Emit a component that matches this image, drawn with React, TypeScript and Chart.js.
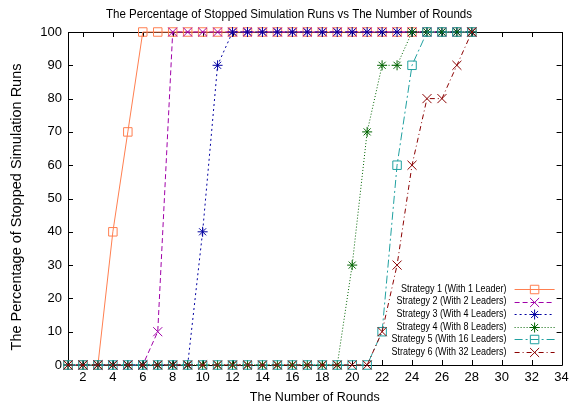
import React, { useEffect, useRef } from 'react';
import { Chart, registerables } from 'chart.js';

Chart.register(...registerables);

const rounds = [1, 2, 3, 4, 5, 6, 7, 8, 9, 10, 11, 12, 13, 14, 15, 16, 17, 18, 19, 20, 21, 22, 23, 24, 25, 26, 27, 28];
const strategy1 = [0, 0, 0, 40, 70, 100, 100, 100, 100, 100, 100, 100, 100, 100, 100, 100, 100, 100, 100, 100, 100, 100, 100, 100, 100, 100, 100, 100];
const strategy2 = [0, 0, 0, 0, 0, 0, 10, 100, 100, 100, 100, 100, 100, 100, 100, 100, 100, 100, 100, 100, 100, 100, 100, 100, 100, 100, 100, 100];
const strategy3 = [0, 0, 0, 0, 0, 0, 0, 0, 0, 40, 90, 100, 100, 100, 100, 100, 100, 100, 100, 100, 100, 100, 100, 100, 100, 100, 100, 100];
const strategy4 = [0, 0, 0, 0, 0, 0, 0, 0, 0, 0, 0, 0, 0, 0, 0, 0, 0, 0, 0, 30, 70, 90, 90, 100, 100, 100, 100, 100];
const strategy5 = [0, 0, 0, 0, 0, 0, 0, 0, 0, 0, 0, 0, 0, 0, 0, 0, 0, 0, 0, 0, 0, 10, 60, 90, 100, 100, 100, 100];
const strategy6 = [0, 0, 0, 0, 0, 0, 0, 0, 0, 0, 0, 0, 0, 0, 0, 0, 0, 0, 0, 0, 0, 10, 30, 60, 80, 80, 90, 100];
const seriesLabels = [
  'Strategy 1 (With 1 Leader)',
  'Strategy 2 (With 2 Leaders)',
  'Strategy 3 (With 4 Leaders)',
  'Strategy 4 (With 8 Leaders)',
  'Strategy 5 (With 16 Leaders)',
  'Strategy 6 (With 32 Leaders)',
];
const xTickValues = [2, 4, 6, 8, 10, 12, 14, 16, 18, 20, 22, 24, 26, 28, 30, 32, 34];
const yTickValues = [0, 10, 20, 30, 40, 50, 60, 70, 80, 90, 100];
const chartTitle = 'The Percentage of Stopped Simulation Runs vs The Number of Rounds';
const xTitle = 'The Number of Rounds';
const yTitle = 'The Percentage of Stopped Simulation Runs';

const FONT = '"Liberation Sans", Arial, Helvetica, sans-serif';

function drawMarker(ctx: CanvasRenderingContext2D, style: string, x: number, y: number, r: number) {
  ctx.beginPath();
  if (style === 'rect') {
    const s = r * Math.SQRT1_2;
    ctx.rect(x - s, y - s, 2 * s, 2 * s);
  } else if (style === 'crossRot' || style === 'star') {
    const d = r * Math.SQRT1_2;
    ctx.moveTo(x - d, y - d); ctx.lineTo(x + d, y + d);
    ctx.moveTo(x - d, y + d); ctx.lineTo(x + d, y - d);
    if (style === 'star') {
      ctx.moveTo(x - r, y); ctx.lineTo(x + r, y);
      ctx.moveTo(x, y - r); ctx.lineTo(x, y + r);
    }
  }
  ctx.stroke();
}

function drawScaledText(ctx: CanvasRenderingContext2D, text: string, x: number, y: number, targetWidth: number, size: number, align: 'center' | 'right') {
  ctx.save();
  ctx.font = `${size}px ${FONT}`;
  const w = ctx.measureText(text).width;
  const k = Math.min(1, targetWidth / w);
  ctx.translate(x, y);
  ctx.scale(k, 1);
  ctx.textAlign = align;
  ctx.textBaseline = 'middle';
  ctx.fillText(text, 0, 0);
  ctx.restore();
}

const framePlugin = {
  id: 'gnuFrame',
  beforeDatasetsDraw(chart: any) {
    const { ctx, chartArea } = chart;
    const { left, right, top, bottom } = chartArea;
    const xs = chart.scales.x;
    const ys = chart.scales.y;
    ctx.save();
    ctx.fillStyle = '#000';
    drawScaledText(ctx, chartTitle, 289, 14, 366, 13, 'center');
    ctx.save();
    ctx.translate(17, 207);
    ctx.rotate(-Math.PI / 2);
    ctx.font = `14.5px ${FONT}`;
    ctx.textAlign = 'center';
    ctx.textBaseline = 'middle';
    ctx.fillText(yTitle, 0, 0);
    ctx.restore();
    ctx.strokeStyle = '#000';
    ctx.lineWidth = 1;
    ctx.setLineDash([]);
    ctx.beginPath();
    ctx.rect(Math.round(left) + 0.5, Math.round(top) + 0.5, Math.round(right - left), Math.round(bottom - top));
    const tl = 5;
    for (const t of xs.ticks) {
      const px = Math.round(xs.getPixelForValue(t.value)) + 0.5;
      ctx.moveTo(px, bottom); ctx.lineTo(px, bottom - tl);
      ctx.moveTo(px, top); ctx.lineTo(px, top + tl);
    }
    for (const t of ys.ticks) {
      const py = Math.round(ys.getPixelForValue(t.value)) + 0.5;
      ctx.moveTo(left, py); ctx.lineTo(left + tl, py);
      ctx.moveTo(right, py); ctx.lineTo(right - tl, py);
    }
    ctx.stroke();
    ctx.restore();
  },
  afterDatasetsDraw(chart: any) {
    const { ctx, chartArea } = chart;
    const ds = chart.data.datasets;
    ctx.save();
    const textRight = chartArea.right - 55;
    const lineStart = chartArea.right - 47;
    const lineEnd = chartArea.right - 7;
    const startY = chartArea.bottom - 76;
    const step = 12.6;
    ctx.font = `10px ${FONT}`;
    const refW = ctx.measureText(seriesLabels[5]).width;
    const k = 115 / refW;
    ds.forEach((d: any, i: number) => {
      const y = startY + i * step;
      ctx.fillStyle = '#000';
      ctx.save();
      ctx.font = `10px ${FONT}`;
      ctx.translate(textRight, y);
      ctx.scale(k, 1);
      ctx.textAlign = 'right';
      ctx.textBaseline = 'middle';
      ctx.fillText(d.label, 0, 0);
      ctx.restore();
      ctx.strokeStyle = d.borderColor;
      ctx.lineWidth = 1;
      ctx.setLineDash(d.borderDash || []);
      ctx.beginPath();
      ctx.moveTo(lineStart, Math.round(y) + 0.5);
      ctx.lineTo(lineEnd, Math.round(y) + 0.5);
      ctx.stroke();
      ctx.setLineDash([]);
      drawMarker(ctx, d.pointStyle, (lineStart + lineEnd) / 2, Math.round(y) + 0.5, d.pointRadius);
    });
    ctx.restore();
  },
};

function makeSeries(label: string, values: number[], color: string, dash: number[], pointStyle: string, radius: number, order: number) {
  return {
    label,
    data: rounds.map((x, i) => ({ x, y: values[i] })),
    borderColor: color,
    backgroundColor: 'rgba(0,0,0,0)',
    borderWidth: 1,
    borderDash: dash,
    pointStyle,
    pointRadius: radius,
    pointHoverRadius: radius,
    pointBorderColor: color,
    pointBackgroundColor: 'rgba(0,0,0,0)',
    pointBorderWidth: 1,
    tension: 0,
    fill: false,
    clip: false as any,
    order,
  };
}

export default function App() {
  const ref = useRef<HTMLCanvasElement>(null);
  useEffect(() => {
    document.body.style.margin = '0';
    const datasets = [
      makeSeries(seriesLabels[0], strategy1, '#ff7f50', [], 'rect', 6, 6),
      makeSeries(seriesLabels[1], strategy2, '#a000a8', [5, 3], 'crossRot', 6.4, 5),
      makeSeries(seriesLabels[2], strategy3, '#0000a0', [2, 3], 'star', 5, 4),
      makeSeries(seriesLabels[3], strategy4, '#006400', [1, 2], 'star', 5, 3),
      makeSeries(seriesLabels[4], strategy5, '#20a0a0', [8, 3, 2, 3], 'rect', 6, 2),
      makeSeries(seriesLabels[5], strategy6, '#8b0000', [5, 3, 1, 3], 'crossRot', 6.4, 1),
    ];
    const tickFont = { family: FONT, size: 13 };
    const chart = new Chart(ref.current as HTMLCanvasElement, {
      type: 'line',
      data: { datasets: datasets as any },
      plugins: [framePlugin],
      options: {
        responsive: false,
        animation: false,
        devicePixelRatio: 1,
        events: [],
        layout: { padding: { left: 0, right: 7, top: 32, bottom: 0 } },
        plugins: {
          legend: { display: false },
          tooltip: { enabled: false },
          title: { display: false },
        },
        scales: {
          x: {
            type: 'linear',
            min: 1,
            max: 34,
            afterBuildTicks: (s: any) => { s.ticks = xTickValues.map((v) => ({ value: v })); },
            afterFit: (s: any) => { s.height = 41; s.paddingRight = 0; s.paddingLeft = 0; },
            grid: { display: false, drawTicks: false },
            border: { display: false },
            ticks: { color: '#000', font: tickFont, padding: 5, maxRotation: 0, autoSkip: false, callback: (v: any) => String(v) },
            title: { display: true, text: xTitle, color: '#000', font: { family: FONT, size: 12.5 }, padding: { top: 0, bottom: 1.3 } },
          },
          y: {
            type: 'linear',
            min: 0,
            max: 100,
            afterBuildTicks: (s: any) => { s.ticks = yTickValues.map((v) => ({ value: v })); },
            afterFit: (s: any) => { s.width = 68; s.paddingTop = 0; s.paddingBottom = 0; },
            grid: { display: false, drawTicks: false },
            border: { display: false },
            ticks: { color: '#000', font: tickFont, padding: 6, autoSkip: false, callback: (v: any) => String(v) },
            title: { display: false },
          },
        },
      } as any,
    });
    return () => chart.destroy();
  }, []);
  return (
    <div style={{ width: 569, height: 406 }}>
      <canvas ref={ref} width={569} height={406} style={{ display: 'block' }} />
    </div>
  );
}
